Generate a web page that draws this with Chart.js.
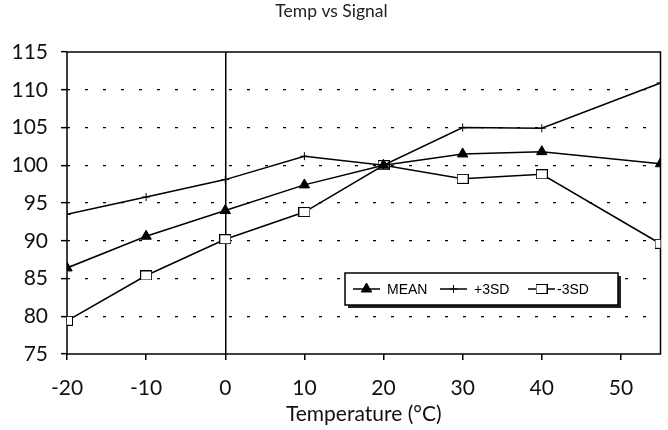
<!DOCTYPE html>
<html>
<head>
<meta charset="utf-8">
<script src="https://cdn.jsdelivr.net/npm/chart.js@4/dist/chart.umd.min.js"></script>
<style>
  html, body { margin: 0; padding: 0; background: #fff; }
  #wrap { width: 668px; height: 430px; position: relative; }
</style>
</head>
<body>
<div id="wrap"><canvas id="c" width="668" height="430"></canvas></div>
<script>
// ---- data ----
const temperatures = [-20, -10, 0, 10, 20, 30, 40, 55];
const meanValues   = [86.4, 90.6, 94.0, 97.4, 100.0, 101.5, 101.8, 100.2];
const plus3SD      = [93.5, 95.8, 98.1, 101.2, 100.0, 105.0, 104.9, 110.9];
const minus3SD     = [79.4, 85.4, 90.2, 93.8, 100.0, 98.2, 98.8, 89.6];
const xTickValues  = [-20, -10, 0, 10, 20, 30, 40, 50];
const seriesNames  = ['MEAN', '+3SD', '-3SD'];
const chartTitle   = 'Temp vs Signal';
const xAxisTitle   = 'Temperature (°C)';

const TICK_FONT = 'Lato';

function toPoints(vals) { return temperatures.map((t, i) => ({ x: t, y: vals[i] })); }

// open square marker (slightly wider than tall, like the reference)
function makeSquare() {
  const cv = document.createElement('canvas');
  cv.width = 12; cv.height = 10;
  const g = cv.getContext('2d');
  g.fillStyle = '#fff';
  g.fillRect(0.5, 0.5, 11, 9);
  g.strokeStyle = '#000';
  g.lineWidth = 1;
  g.strokeRect(0.5, 0.5, 11, 9);
  return cv;
}
const squareMarker = makeSquare();

const framePlugin = {
  id: 'frame',
  beforeDatasetsDraw(chart) {
    const a = chart.chartArea, ctx = chart.ctx;
    ctx.save();
    ctx.strokeStyle = '#000';
    ctx.lineWidth = 1.5;
    ctx.strokeRect(a.left, a.top, a.right - a.left, a.bottom - a.top);
    ctx.restore();
  }
};

const legendPlugin = {
  id: 'boxLegend',
  afterDraw(chart) {
    const ctx = chart.ctx;
    const bx = 345, by = 273, bw = 273, bh = 32;
    ctx.save();
    // shadow
    ctx.fillStyle = '#222';
    ctx.fillRect(bx + 3, by + 3, bw, bh);
    ctx.fillStyle = '#fff';
    ctx.fillRect(bx, by, bw, bh);
    ctx.strokeStyle = '#000';
    ctx.lineWidth = 1.5;
    ctx.strokeRect(bx, by, bw, bh);
    const cy = by + bh / 2;
    const items = [
      { x0: 353, x1: 380, text: seriesNames[0], tx: 387, ds: 0 },
      { x0: 440, x1: 467, text: seriesNames[1], tx: 474, ds: 1 },
      { x0: 528, x1: 555, text: seriesNames[2], tx: 557, ds: 2 }
    ];
    items.forEach(it => {
      ctx.strokeStyle = '#000';
      ctx.lineWidth = 1.5;
      ctx.beginPath();
      ctx.moveTo(it.x0, cy);
      ctx.lineTo(it.x1, cy);
      ctx.stroke();
      const ds = chart.data.datasets[it.ds];
      const mx = (it.x0 + it.x1) / 2;
      ctx.fillStyle = '#000';
      ctx.strokeStyle = '#000';
      ctx.lineWidth = 1;
      Chart.helpers.drawPoint(ctx, {
        pointStyle: ds.pointStyle,
        radius: ds.pointRadius,
        rotation: 0,
        borderWidth: 1
      }, mx, cy);
      ctx.fillStyle = '#000';
      ctx.font = '14px "Liberation Sans", Arial, sans-serif';
      ctx.textBaseline = 'middle';
      ctx.textAlign = 'left';
      ctx.fillText(it.text, it.tx, cy + 1);
    });
    ctx.restore();
  }
};

new Chart(document.getElementById('c'), {
  type: 'line',
  data: {
    datasets: [
      {
        label: seriesNames[0], data: toPoints(meanValues),
        borderColor: '#000', backgroundColor: '#000', borderWidth: 1.5,
        pointStyle: 'triangle', pointRadius: 6, pointBackgroundColor: '#000',
        pointBorderColor: '#000', pointBorderWidth: 1, tension: 0
      },
      {
        label: seriesNames[1], data: toPoints(plus3SD),
        borderColor: '#000', backgroundColor: '#000', borderWidth: 1.5,
        pointStyle: 'cross', pointRadius: 4, pointBorderColor: '#000',
        pointBorderWidth: 1, tension: 0
      },
      {
        label: seriesNames[2], data: toPoints(minus3SD),
        borderColor: '#000', backgroundColor: '#fff', borderWidth: 1.5,
        pointStyle: squareMarker, pointRadius: 6, tension: 0
      }
    ]
  },
  options: {
    responsive: false,
    animation: false,
    events: [],
    layout: { padding: { left: 0, right: 5, top: 0, bottom: 0 } },
    plugins: {
      legend: { display: false },
      tooltip: { enabled: false },
      title: {
        display: true, text: chartTitle, color: '#222',
        font: { family: TICK_FONT, size: 17.5, weight: 'normal' },
        padding: { top: 1, bottom: 30 }
      }
    },
    scales: {
      x: {
        type: 'linear', min: -20, max: 55,
        afterBuildTicks: (s) => { s.ticks = xTickValues.map(v => ({ value: v })); },
        afterFit: (s) => { s.height = 76; s.paddingLeft = 0; s.paddingRight = 0; },
        grid: {
          color: (c) => (c.tick && c.tick.value === 0) ? '#000' : 'rgba(0,0,0,0)',
          lineWidth: 1.5, tickColor: '#000', tickLength: 6, tickWidth: 1.5, drawTicks: true
        },
        border: { display: false },
        ticks: {
          color: '#111', padding: 16, maxRotation: 0, autoSkip: false,
          font: { family: TICK_FONT, size: 21 },
          callback: (v) => String(v)
        },
        title: {
          display: true, text: xAxisTitle, color: '#111',
          font: { family: TICK_FONT, size: 21 },
          padding: { top: 0, bottom: 3 }
        }
      },
      y: {
        min: 75, max: 115,
        afterFit: (s) => { s.width = 67; s.paddingTop = 0; s.paddingBottom = 0; },
        grid: {
          color: (c) => (c.tick && (c.tick.value === 75 || c.tick.value === 115)) ? 'rgba(0,0,0,0)' : '#000',
          lineWidth: 1.3, tickColor: '#000', tickLength: 6, tickWidth: 1.5, tickBorderDash: []
        },
        border: { display: false, dash: (c) => [3, 15] },
        ticks: {
          stepSize: 5, color: '#111', padding: 13,
          font: { family: TICK_FONT, size: 21 }
        }
      }
    }
  },
  plugins: [framePlugin, legendPlugin]
});
</script>
</body>
</html>
